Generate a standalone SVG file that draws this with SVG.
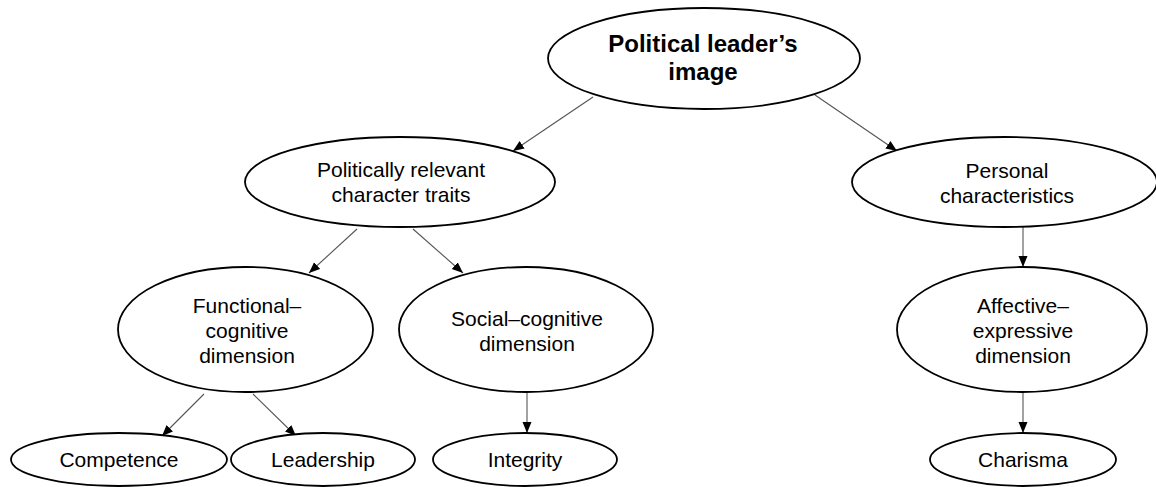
<svg xmlns="http://www.w3.org/2000/svg" width="1156" height="487" viewBox="0 0 1156 487">
<style>
.node ellipse{fill:#fff;stroke:#000;stroke-width:1.8}
.node text{font-family:"Liberation Sans",Arial,sans-serif;font-size:21px;fill:#000;text-anchor:middle}
.node text.bold{font-weight:bold;font-size:24px}
.conn line{stroke:#555;stroke-width:1.1;marker-end:url(#arr)}
</style>
<defs>
<marker id="arr" markerUnits="userSpaceOnUse" markerWidth="12" markerHeight="10" refX="11" refY="5" orient="auto">
<path d="M0,0.5 L11,5 L0,9.5 z" fill="#000"/>
</marker>
</defs>
<rect width="1156" height="487" fill="#fff"/>
<g id="connectors" class="conn">
<line x1="593" y1="97" x2="513" y2="151"/>
<line x1="815" y1="95" x2="897" y2="151"/>
<line x1="357" y1="229" x2="309" y2="273"/>
<line x1="413" y1="229" x2="463" y2="273"/>
<line x1="204" y1="394" x2="162" y2="436"/>
<line x1="253" y1="394" x2="296" y2="436"/>
<line x1="527" y1="392" x2="527" y2="433"/>
<line x1="1023" y1="227" x2="1023" y2="267"/>
<line x1="1023" y1="392" x2="1023" y2="433"/>
</g>
<g id="n-image" class="node">
<ellipse cx="704" cy="58.5" rx="156" ry="50.5"/>
<text class="bold" x="703" y="52">Political leader’s</text>
<text class="bold" x="703" y="80">image</text>
</g>
<g id="n-political" class="node">
<ellipse cx="400" cy="182" rx="155" ry="45"/>
<text x="401" y="177">Politically relevant</text>
<text x="401" y="202">character traits</text>
</g>
<g id="n-personal" class="node">
<ellipse cx="1004.5" cy="182" rx="152.5" ry="45"/>
<text x="1007" y="178">Personal</text>
<text x="1007" y="203">characteristics</text>
</g>
<g id="n-functional" class="node">
<ellipse cx="245.5" cy="329.5" rx="127.5" ry="62.5"/>
<text x="247" y="313">Functional–</text>
<text x="247" y="338">cognitive</text>
<text x="247" y="363">dimension</text>
</g>
<g id="n-social" class="node">
<ellipse cx="526" cy="329.5" rx="127" ry="62.5"/>
<text x="527" y="326">Social–cognitive</text>
<text x="527" y="351">dimension</text>
</g>
<g id="n-affective" class="node">
<ellipse cx="1022" cy="329.5" rx="125" ry="62.5"/>
<text x="1023" y="313">Affective–</text>
<text x="1023" y="338">expressive</text>
<text x="1023" y="363">dimension</text>
</g>
<g id="n-competence" class="node">
<ellipse cx="119" cy="459.5" rx="108" ry="26.5"/>
<text x="119" y="467">Competence</text>
</g>
<g id="n-leadership" class="node">
<ellipse cx="323" cy="459.5" rx="92" ry="26.5"/>
<text x="323" y="467">Leadership</text>
</g>
<g id="n-integrity" class="node">
<ellipse cx="525" cy="459.5" rx="92" ry="26.5"/>
<text x="525" y="467">Integrity</text>
</g>
<g id="n-charisma" class="node">
<ellipse cx="1023" cy="459.5" rx="93" ry="26.5"/>
<text x="1023" y="467">Charisma</text>
</g>
</svg>
